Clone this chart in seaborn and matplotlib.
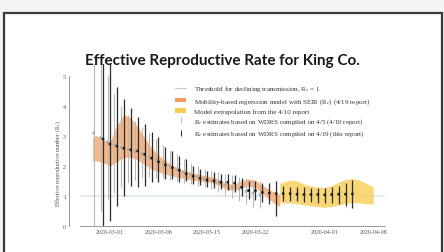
import matplotlib
matplotlib.use('Agg')

import datetime as dt
import numpy as np
import pandas as pd
import matplotlib.pyplot as plt
import matplotlib.dates as mdates
from matplotlib.patches import Rectangle, Patch
from matplotlib.lines import Line2D
import seaborn as sns

# --------------------------------------------------
# Data
# --------------------------------------------------
start = dt.date(2020, 3, 1)

# mobility-based model band (day offset from 3/1, centre, half-width)
model_days = [-2.5, -2, -1, 0, 1, 2, 3, 4, 5, 6, 7, 8, 9, 10, 11, 12, 13, 14,
              15, 16, 17, 18, 19, 20, 21, 22, 23, 24, 24.5]
model_mid = [2.55, 2.6, 2.5, 2.4, 2.75, 3.0, 2.95, 2.75, 2.5, 2.25, 2.08, 1.95,
             1.85, 1.76, 1.7, 1.65, 1.6, 1.57, 1.52, 1.42, 1.3, 1.3, 1.4, 1.45,
             1.4, 1.22, 1.05, 0.9, 0.85]
model_half = [0.4, 0.42, 0.38, 0.4, 0.6, 0.72, 0.65, 0.55, 0.45, 0.35, 0.28,
              0.22, 0.18, 0.15, 0.13, 0.12, 0.11, 0.1, 0.1, 0.1, 0.1, 0.1,
              0.11, 0.12, 0.12, 0.14, 0.17, 0.2, 0.2]

# extrapolation band from the 4/10 report
extra_days = [24.5, 25, 26, 27, 28, 29, 30, 31, 32, 33, 34, 35, 36, 37, 38]
extra_mid = [1.1, 1.12, 1.15, 1.12, 1.05, 1.0, 0.97, 0.95, 1.0, 1.08, 1.15,
             1.18, 1.15, 1.08, 1.02]
extra_half = [0.32, 0.35, 0.38, 0.38, 0.35, 0.33, 0.32, 0.33, 0.35, 0.38,
              0.4, 0.4, 0.38, 0.34, 0.28]

# Re estimates, 4/10 report (light)
old_days = list(range(-2, 23))
old_mean = [3.1, 2.95, 2.8, 2.7, 2.62, 2.55, 2.48, 2.42, 2.32, 2.2, 2.1, 2.0,
            1.9, 1.8, 1.72, 1.65, 1.58, 1.52, 1.45, 1.38, 1.3, 1.22, 1.15,
            1.1, 1.05]
old_lo = [0.0, 0.5, 0.9, 1.1, 1.3, 1.45, 1.55, 1.6, 1.65, 1.6, 1.6, 1.55, 1.5,
          1.45, 1.4, 1.35, 1.3, 1.25, 1.15, 1.05, 0.95, 0.85, 0.75, 0.65, 0.6]
old_hi = [5.6, 5.6, 5.0, 4.4, 4.0, 3.7, 3.5, 3.3, 3.1, 2.9, 2.7, 2.55, 2.4,
          2.25, 2.1, 2.0, 1.9, 1.85, 1.8, 1.75, 1.7, 1.65, 1.6, 1.55, 1.5]

# Re estimates, this report (dark)
new_days = list(range(-1, 36))
new_mean = [2.9, 2.73, 2.66, 2.59, 2.54, 2.5, 2.39, 2.26, 2.14, 2.03, 1.94,
            1.86, 1.74, 1.66, 1.59, 1.53, 1.5, 1.46, 1.46, 1.43, 1.29, 1.18,
            1.18, 1.12, 1.1, 1.08, 1.08, 1.08, 1.06, 1.05, 1.05, 1.05, 1.04,
            1.05, 1.06, 1.06, 1.07]
new_lo = [-0.3, 0.18, 0.68, 1.01, 1.34, 1.3, 1.35, 1.47, 1.47, 1.57, 1.57,
          1.47, 1.5, 1.4, 1.38, 1.3, 1.28, 1.22, 1.2, 1.15, 1.0, 0.9, 0.88,
          0.8, 0.72, 0.35, 0.82, 0.84, 0.82, 0.8, 0.8, 0.78, 0.77, 0.76, 0.74,
          0.66, 0.6]
new_hi = [5.6, 5.6, 4.62, 4.23, 3.92, 3.62, 3.4, 3.13, 2.97, 2.63, 2.51, 2.33,
          2.23, 2.01, 1.9, 1.85, 1.8, 1.75, 1.75, 1.7, 1.6, 1.5, 1.5, 1.45,
          1.45, 1.5, 1.33, 1.3, 1.3, 1.3, 1.28, 1.28, 1.28, 1.3, 1.35, 1.42,
          1.52]

tick_dates = ['2020-03-01', '2020-03-08', '2020-03-15', '2020-03-22',
              '2020-04-01', '2020-04-08']

labels = [
    'Threshold for declining transmission, R$_e$ = 1',
    'Mobility-based regression model with SEIR (R$_e$) (4/19 report)',
    'Model extrapolation from the 4/10 report',
    'R$_e$ estimates based on WDRS compiled on 4/5 (4/10 report)',
    'R$_e$ estimates based on WDRS compiled on 4/19 (this report)',
]


def to_num(days, shift=0.0):
    base = mdates.date2num(start)
    return base + np.asarray(days, dtype=float) + shift


# --------------------------------------------------
# Figure
# --------------------------------------------------
sns.set_theme(style='white')
plt.rcParams['font.family'] = ['Liberation Serif', 'DejaVu Serif']
plt.rcParams['mathtext.fontset'] = 'stix'

W, H = 444, 253
fig = plt.figure(figsize=(W / 100, H / 100), dpi=100)
fig.patch.set_facecolor('#f4f4f4')

# slide frame
fig.add_artist(Rectangle((4 / W, -0.05), 438 / W, 1 - 14 / H + 0.05,
                         transform=fig.transFigure, facecolor='white',
                         edgecolor='#3a3a3a', lw=1.6, zorder=-5))

ax = fig.add_axes([80 / W, 1 - 227 / H, 305 / W, 162 / H])
ax.set_facecolor('none')

ax.axhline(1, color='#dce7f2', lw=1.2, zorder=1)

ax.fill_between(to_num(model_days),
                np.array(model_mid) - np.array(model_half),
                np.array(model_mid) + np.array(model_half),
                color='#f6a56a', alpha=0.8, lw=0, zorder=2)
ax.fill_between(to_num(extra_days),
                np.array(extra_mid) - np.array(extra_half),
                np.array(extra_mid) + np.array(extra_half),
                color='#f7cd55', alpha=0.8, lw=0, zorder=2)

old_x = to_num(old_days, -0.35)
new_x = to_num(new_days, 0.0)
ax.vlines(old_x, old_lo, old_hi, color='#b8b8b8', lw=0.8, zorder=3)
ax.vlines(new_x, new_lo, new_hi, color='#2b2b2b', lw=0.9, zorder=4)

pts = pd.DataFrame({
    'x': np.concatenate([old_x, new_x]),
    'y': np.concatenate([old_mean, new_mean]),
    'series': ['old'] * len(old_x) + ['new'] * len(new_x),
})
sns.scatterplot(data=pts, x='x', y='y', hue='series',
                palette={'old': '#a8a8a8', 'new': '#1a1a1a'},
                s=4, linewidth=0, legend=False, zorder=5, ax=ax)

ax.set_xlim(mdates.date2num(start) - 4.33, mdates.date2num(start) + 39.7)
ax.set_ylim(0, 5.4)
ax.set_xticks([mdates.date2num(pd.Timestamp(d)) for d in tick_dates])
ax.set_xticklabels(tick_dates)
ax.set_yticks([0, 1, 2, 3, 4, 5])
ax.tick_params(axis='both', labelsize=4.3, colors='#555555', length=0, pad=2)
ax.set_xlabel('')
ax.set_ylabel('Effective reproductive number (R$_e$)', fontsize=4.3,
              color='#555555')
ax.yaxis.set_label_coords(-17 / 305, (227 - 163) / 162)

sns.despine(ax=ax)
ax.spines['left'].set_position(('outward', 8))
ax.spines['left'].set_bounds(0, 5)
for side in ['left', 'bottom']:
    ax.spines[side].set_color('#888888')
    ax.spines[side].set_linewidth(0.6)

handles = [
    Line2D([], [], color='#c9c9c9', lw=0.8),
    Patch(facecolor='#f59a5a', edgecolor='none'),
    Patch(facecolor='#f7cd55', edgecolor='none'),
    Line2D([], [], color='#b8b8b8', marker='|', ms=5, lw=0, mew=0.7),
    Line2D([], [], color='#2b2b2b', marker='|', ms=5, lw=0, mew=0.7),
]
leg = fig.legend(handles, labels, loc='upper left',
                 bbox_to_anchor=(172 / W, 1 - 81 / H), frameon=False,
                 fontsize=5.0, labelspacing=0.36, handlelength=1.5,
                 handleheight=0.6, handletextpad=1.1, borderpad=0)
for t in leg.get_texts():
    t.set_color('#333333')

fig.text(0.5, 1 - 61 / H, 'Effective Reproductive Rate for King Co.',
         ha='center', va='center', fontsize=11, fontweight='bold',
         family=['Lato', 'DejaVu Sans'], color='#1a1a1a')

fig.savefig('out.png', dpi=100)
plt.close(fig)
